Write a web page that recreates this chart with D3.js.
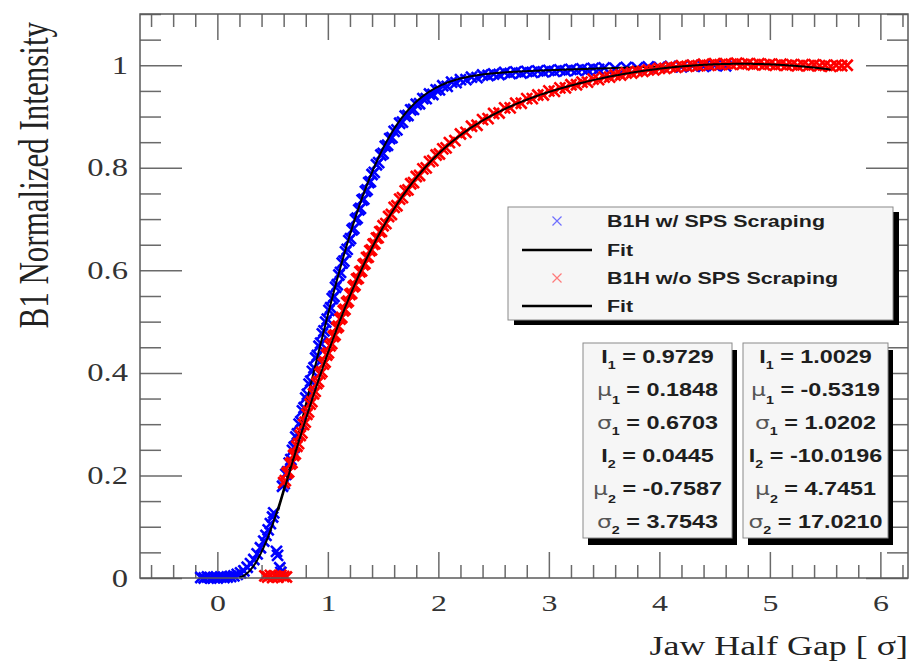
<!DOCTYPE html>
<html>
<head>
<meta charset="utf-8">
<script src="https://d3js.org/d3.v7.min.js"></script>
<style>
  html, body { margin: 0; padding: 0; background: #fff; }
  svg { display: block; }
</style>
</head>
<body>
<svg id="chart" width="913" height="666"></svg>
<script>
// ---- Measured intensity, beam B1H with SPS scraping ----
const scrapedX = [
  -0.15,-0.12,-0.09,-0.06,-0.03,0.00,0.03,0.06,0.09,0.12,0.15,0.18,0.21,0.24,0.27,0.30,0.33,0.36,0.39,0.42,
  0.44,0.46,0.48,0.50,0.51,0.535,0.545,0.565,0.575,
  0.590,0.605,0.620,0.635,0.650,0.665,0.680,0.695,0.710,0.725,0.740,0.755,0.770,0.785,0.800,0.815,0.830,0.845,
  0.860,0.875,0.890,0.905,0.920,0.935,0.950,0.965,0.980,0.995,1.010,1.025,1.040,1.055,1.070,1.085,1.100,1.115,
  1.130,1.145,1.160,1.175,1.190,1.205,1.220,1.235,1.250,1.265,1.280,1.295,1.310,1.325,1.340,1.355,1.370,1.385,
  1.400,1.420,1.440,1.460,1.480,1.500,1.520,1.540,1.560,1.580,1.600,1.625,1.650,1.675,1.700,1.725,1.750,1.775,
  1.800,1.830,1.860,1.890,1.920,1.950,1.980,2.010,2.040,2.080,2.120,2.160,2.200,2.250,
  2.30,2.35,2.40,2.45,2.50,2.55,2.60,2.65,2.70,2.75,2.80,2.85,2.90,2.95,3.00,3.05,3.10,3.15,3.20,3.25,3.30,3.35,
  3.40,3.45,3.50,3.60,3.70,3.80,3.90,4.00,4.10,4.20,4.30,4.40,4.50,4.60
];
const scrapedY = [
  0.001,0.000,0.002,0.000,0.001,0.000,0.002,0.001,0.002,0.003,0.004,0.007,0.010,0.014,0.021,0.028,0.036,0.047,0.059,0.072,
  0.083,0.094,0.106,0.119,0.127,0.052,0.044,0.020,0.011,
  0.179,0.184,0.202,0.207,0.224,0.231,0.249,0.255,0.275,0.281,0.300,0.305,0.326,0.332,0.351,0.358,0.378,0.384,
  0.403,0.410,0.429,0.434,0.452,0.458,0.476,0.482,0.499,0.505,0.522,0.527,0.545,0.549,0.567,0.572,0.591,0.596,
  0.614,0.618,0.636,0.641,0.658,0.662,0.679,0.682,0.699,0.702,0.718,0.721,0.737,0.739,0.754,0.757,0.771,0.773,
  0.787,0.791,0.806,0.810,0.825,0.828,0.842,0.844,0.857,0.859,0.871,0.874,0.887,0.889,0.901,0.902,0.913,0.914,
  0.924,0.925,0.935,0.935,0.944,0.943,0.952,0.952,0.960,0.959,0.967,0.966,0.972,0.972,
  0.977,0.976,0.981,0.980,0.983,0.982,0.986,0.984,0.987,0.985,0.988,0.986,0.989,0.987,0.990,0.988,0.991,0.989,0.992,0.990,0.993,0.991,
  0.994,0.992,0.995,0.994,0.996,0.995,0.997,0.996,0.998,0.997,0.999,0.998,1.000,0.999
];

// ---- Measured intensity, beam B1H without SPS scraping ----
const unscrapedX = [
  0.430,0.455,0.480,0.500,0.525,0.550,0.575,0.600,0.625,
  0.600,0.615,0.630,0.645,0.660,0.675,0.690,0.705,0.720,0.735,0.750,0.765,0.780,0.795,0.810,0.825,0.840,0.855,
  0.870,0.885,0.900,0.915,0.930,0.945,0.960,0.975,0.990,1.005,1.020,1.035,1.050,1.065,1.080,1.095,1.110,1.125,
  1.140,1.155,1.170,1.185,1.200,1.215,1.230,1.245,1.260,1.275,1.290,1.305,1.320,1.335,1.350,1.365,1.380,1.395,
  1.410,1.425,1.440,1.455,1.470,1.485,1.500,1.525,1.550,1.575,1.600,1.625,1.650,1.675,1.700,1.725,1.750,1.775,
  1.800,1.830,1.860,1.890,1.920,1.950,1.980,2.010,2.040,2.070,
  2.10,2.15,2.20,2.25,2.30,2.35,2.40,2.45,2.50,2.55,2.60,2.65,2.70,2.75,2.80,2.85,2.90,2.95,3.00,3.05,3.10,3.15,
  3.20,3.25,3.30,3.35,3.40,3.45,3.50,3.55,3.60,3.65,3.70,3.75,3.80,3.85,3.90,3.95,4.00,4.05,4.10,4.15,4.20,4.25,
  4.30,4.35,4.40,4.45,4.50,4.55,4.60,4.65,4.70,4.75,4.80,4.85,4.90,4.95,5.00,5.05,5.10,5.15,5.20,5.25,5.30,5.35,
  5.40,5.45,5.50,5.55,5.60,5.65,5.70
];
const unscrapedY = [
  0.004,0.002,0.005,0.001,0.004,0.002,0.005,0.003,0.002,
  0.186,0.190,0.204,0.207,0.222,0.225,0.239,0.242,0.257,0.262,0.278,0.283,0.299,0.304,0.319,0.324,0.339,0.344,
  0.359,0.364,0.379,0.383,0.398,0.402,0.417,0.421,0.435,0.439,0.453,0.457,0.471,0.474,0.488,0.491,0.505,0.508,
  0.521,0.524,0.537,0.540,0.553,0.555,0.568,0.571,0.583,0.585,0.597,0.599,0.611,0.613,0.625,0.626,0.638,0.640,
  0.651,0.652,0.663,0.664,0.675,0.676,0.687,0.691,0.705,0.709,0.723,0.726,0.739,0.742,0.755,0.757,0.769,0.771,
  0.783,0.785,0.798,0.800,0.812,0.814,0.825,0.827,0.837,0.839,
  0.849,0.853,0.866,0.869,0.881,0.883,0.894,0.896,0.906,0.907,0.917,0.917,0.926,0.926,0.935,0.935,0.942,0.942,0.950,0.949,0.956,0.956,
  0.962,0.962,0.967,0.967,0.973,0.972,0.977,0.977,0.981,0.981,0.985,0.985,0.988,0.988,0.991,0.991,0.994,0.994,0.997,0.996,0.999,0.998,
  1.000,0.999,1.002,1.000,1.003,1.001,1.003,1.002,1.004,1.002,1.003,1.001,1.003,1.001,1.002,1.000,1.002,1.000,1.001,0.999,1.001,0.999,
  1.001,0.999,1.000,0.998,1.000,0.999,1.000
];

// ---- Double-Gaussian fit results: I1, mu1, sigma1, I2, mu2, sigma2 ----
const fitScraped   = [0.9729, 0.1848, 0.6703, 0.0445, -0.7587, 3.7543];
const fitUnscraped = [1.0029, -0.5319, 1.0202, -10.0196, 4.7451, 17.0210];
const fitRangeScraped   = [0.20, 4.60];
const fitRangeUnscraped = [0.55, 5.55];

const statSymbols = ["I", "\u03BC", "\u03C3", "I", "\u03BC", "\u03C3"];
const statIndex   = ["1", "1", "1", "2", "2", "2"];

const legendLabels = ["B1H w/ SPS Scraping", "Fit", "B1H w/o SPS Scraping", "Fit"];

const xTickLabels = [0, 1, 2, 3, 4, 5, 6];
const yTickLabels = [0, 0.2, 0.4, 0.6, 0.8, 1];

// ---- layout ----
const frame = { left: 140, right: 908, top: 14, bottom: 578 };
const textStretch = 1.33;
const BLUE = "#0000ff", RED = "#ff0000";
const serif = "'Liberation Serif', 'Times New Roman', serif";
const sans = "'Liberation Sans', Arial, Helvetica, sans-serif";

const svg = d3.select("#chart");

const x = d3.scaleLinear().domain([-0.7, 6.25]).range([frame.left, frame.right]);
const y = d3.scaleLinear().domain([0, 1.1]).range([frame.bottom, frame.top]);

// profile model: sum of two Gaussian-edge terms
function beamModel(p, v) {
  return p[0] * (1 - Math.exp(-0.5 * Math.pow((v - p[1]) / p[2], 2))) +
         p[3] * (1 - Math.exp(-0.5 * Math.pow((v - p[4]) / p[5], 2)));
}

// ---- axes (ticks on all four sides, ROOT style) ----
const near = (a, b) => Math.abs(a - b) < 1e-6;
const xMinor = d3.range(-3, 32).map(i => +(i * 0.2).toFixed(2))
  .filter(v => !xTickLabels.some(m => near(m, v)));
const yMinor = d3.range(0, 23).map(i => +(i * 0.05).toFixed(2))
  .filter(v => !yTickLabels.some(m => near(m, v)));

function styleAxis(g) {
  g.select(".domain").remove();
  g.selectAll(".tick line").attr("stroke", "#6a6a6a").attr("stroke-width", 1.5);
}

const axes = svg.append("g").attr("class", "axes");

// bottom
axes.append("g").attr("transform", `translate(0,${frame.bottom})`)
  .call(d3.axisBottom(x).tickValues(xMinor).tickSize(-13).tickSizeOuter(0).tickFormat(""))
  .call(styleAxis);
const xAxisG = axes.append("g").attr("transform", `translate(0,${frame.bottom})`)
  .call(d3.axisBottom(x).tickValues(xTickLabels).tickSize(-26).tickSizeOuter(0).tickFormat(d3.format("d")))
  .call(styleAxis);
xAxisG.selectAll(".tick text")
  .attr("y", null).attr("dy", null)
  .attr("transform", `translate(0,33) scale(${textStretch},1)`)
  .attr("font-family", serif).attr("font-size", 24).attr("fill", "#333");

// top
axes.append("g").attr("transform", `translate(0,${frame.top})`)
  .call(d3.axisTop(x).tickValues(xMinor).tickSize(-13).tickSizeOuter(0).tickFormat(""))
  .call(styleAxis);
axes.append("g").attr("transform", `translate(0,${frame.top})`)
  .call(d3.axisTop(x).tickValues(xTickLabels).tickSize(-26).tickSizeOuter(0).tickFormat(""))
  .call(styleAxis);

// left
axes.append("g").attr("transform", `translate(${frame.left},0)`)
  .call(d3.axisLeft(y).tickValues(yMinor).tickSize(-21).tickSizeOuter(0).tickFormat(""))
  .call(styleAxis);
const yAxisG = axes.append("g").attr("transform", `translate(${frame.left},0)`)
  .call(d3.axisLeft(y).tickValues(yTickLabels).tickSize(-42).tickSizeOuter(0).tickFormat(d3.format("~g")))
  .call(styleAxis);
yAxisG.selectAll(".tick text")
  .attr("x", null).attr("dy", null)
  .attr("text-anchor", "end")
  .attr("transform", `translate(-12,8) scale(${textStretch},1)`)
  .attr("font-family", serif).attr("font-size", 24.5).attr("fill", "#333");

// right
axes.append("g").attr("transform", `translate(${frame.right},0)`)
  .call(d3.axisRight(y).tickValues(yMinor).tickSize(-21).tickSizeOuter(0).tickFormat(""))
  .call(styleAxis);
axes.append("g").attr("transform", `translate(${frame.right},0)`)
  .call(d3.axisRight(y).tickValues(yTickLabels).tickSize(-42).tickSizeOuter(0).tickFormat(""))
  .call(styleAxis);

// axis titles
svg.append("text")
  .attr("transform", `translate(908,655) scale(${textStretch},1)`)
  .attr("text-anchor", "end")
  .attr("font-family", serif).attr("font-size", 27).attr("fill", "#222")
  .text("Jaw Half Gap [ \u03C3]");

svg.append("text")
  .attr("transform", `translate(48,22) scale(${textStretch},1) rotate(-90)`)
  .attr("text-anchor", "end")
  .attr("font-family", serif).attr("font-size", 31).attr("fill", "#222")
  .text("B1 Normalized Intensity");

// ---- data and fits ----
const crossPath = r => `M${-r},${-r}L${r},${r}M${-r},${r}L${r},${-r}`;
const plot = svg.append("g").attr("class", "plot");

function drawPoints(xs, ys, color) {
  plot.append("g").selectAll("path")
    .data(d3.zip(xs, ys))
    .join("path")
    .attr("transform", d => `translate(${x(d[0])},${y(d[1])})`)
    .attr("d", crossPath(5.5))
    .attr("fill", "none")
    .attr("stroke", color)
    .attr("stroke-width", 2.6);
}

const line = d3.line().x(d => x(d[0])).y(d => y(d[1]));
function drawFit(params, range) {
  const pts = d3.range(range[0], range[1] + 1e-9, 0.01).map(v => [v, beamModel(params, v)]);
  plot.append("path")
    .attr("d", line(pts))
    .attr("fill", "none")
    .attr("stroke", "#000")
    .attr("stroke-width", 2);
}

drawPoints(scrapedX, scrapedY, BLUE);
drawFit(fitScraped, fitRangeScraped);
drawPoints(unscrapedX, unscrapedY, RED);
drawFit(fitUnscraped, fitRangeUnscraped);

// frame
svg.append("rect")
  .attr("x", frame.left).attr("y", frame.top)
  .attr("width", frame.right - frame.left).attr("height", frame.bottom - frame.top)
  .attr("fill", "none").attr("stroke", "#5a5a5a").attr("stroke-width", 1.5);

// ---- boxes with drop shadow ----
function shadowBox(x0, y0, w, h, dx, dy) {
  svg.append("rect").attr("x", x0 + dx).attr("y", y0 + dy).attr("width", w).attr("height", h).attr("fill", "#000");
  svg.append("rect").attr("x", x0).attr("y", y0).attr("width", w).attr("height", h)
    .attr("fill", "#f6f6f6").attr("stroke", "#8a8a8a").attr("stroke-width", 1);
}

// legend
shadowBox(508, 207, 385, 113, 6, 5);
const legendRows = [221, 250, 278, 306];
const legendKinds = ["marker", "line", "marker", "line"];
const legendColors = ["#6f6fff", "#000", "#ff7a7a", "#000"];
legendLabels.forEach((lab, i) => {
  const cy = legendRows[i];
  if (legendKinds[i] === "marker") {
    svg.append("path").attr("transform", `translate(557,${cy})`).attr("d", crossPath(4.5))
      .attr("fill", "none").attr("stroke", legendColors[i]).attr("stroke-width", 1.2);
  } else {
    svg.append("line").attr("x1", 522).attr("x2", 592).attr("y1", cy).attr("y2", cy)
      .attr("stroke", "#000").attr("stroke-width", 2.5);
  }
  svg.append("text")
    .attr("transform", `translate(607,${cy + 6}) scale(1.3,1)`)
    .attr("font-family", sans).attr("font-weight", "bold").attr("font-size", 16.5).attr("fill", "#1e1e1e")
    .text(lab);
});

// fit parameter boxes
const statRows = [363, 396, 429, 462, 495, 528];
function statBox(x0, w, params) {
  shadowBox(x0, 343, w, 195, 5, 7);
  const cx = x0 + w / 2;
  params.forEach((val, i) => {
    const t = svg.append("text")
      .attr("transform", `translate(${cx},${statRows[i]}) scale(1.3,1)`)
      .attr("text-anchor", "middle")
      .attr("font-family", sans).attr("font-weight", "bold").attr("font-size", 18).attr("fill", "#1e1e1e");
    const isGreek = statSymbols[i] !== "I";
    const drop = statSymbols[i] === "\u03BC" ? 8 : 6;
    t.append("tspan")
      .attr("font-family", isGreek ? "'DejaVu Sans', sans-serif" : sans)
      .attr("font-weight", isGreek ? "normal" : "bold")
      .attr("fill", isGreek ? "#555" : "#1e1e1e")
      .text(statSymbols[i]);
    t.append("tspan").attr("dy", drop).attr("font-size", 11).text(statIndex[i]);
    t.append("tspan").attr("dy", -drop).text(" = " + val.toFixed(4));
  });
}
statBox(583, 149, fitScraped);
statBox(743, 145, fitUnscraped);
</script>
</body>
</html>
